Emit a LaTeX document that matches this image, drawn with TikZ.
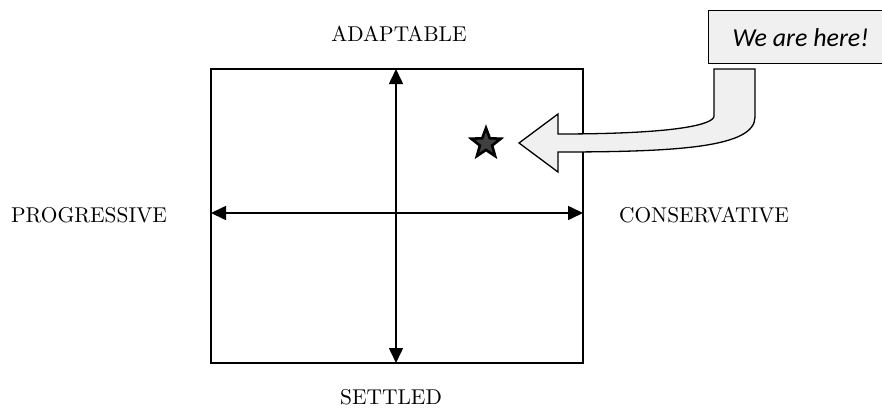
\documentclass[tikz,border=0pt]{standalone}
\usepackage{fontspec}
\newfontfamily\calloutfont{Carlito}
\usetikzlibrary{arrows.meta,shapes.geometric}

\begin{document}
\begin{tikzpicture}[x=1bp,y=1bp,line width=1.6bp,
  axis/.style={{Triangle[length=15bp,width=14bp]}-{Triangle[length=15bp,width=14bp]}},
  pole/.style={scale=2.15,transform shape,inner sep=0pt},
  callout/.style={draw,fill=black!6,line width=1.3bp}]
  \useasboundingbox (0,0) rectangle (882,409);
  \pgfmathsetmacro\cx{396}
  \pgfmathsetmacro\cy{196}
  % square:
  \draw (211,46) rectangle (583,340);
  % ends of the axes:
  \coordinate (top) at (\cx,340);
  \coordinate (bottom) at (\cx,46);
  \coordinate (left) at (211,\cy);
  \coordinate (right) at (583,\cy);
  % axes:
  \draw[axis] (bottom) -- (top);
  \draw[axis] (left) -- (right);
  % names of the poles:
  \node[pole] (adaptable) at (399,375) {ADAPTABLE};
  \node[pole] (settled) at (391,12) {SETTLED};
  \node[pole] (progressive) at (89,194) {PROGRESSIVE};
  \node[pole] (conservative) at (704,194) {CONSERVATIVE};
  % star:
  \node[star,star points=5,star point ratio=2.4,minimum size=31bp,inner sep=0pt,
    draw,line width=2.6bp,fill=black!75] (star) at (486,265.5) {};
  % bent arrow:
  \draw[callout] (519,266) -- (558,295) -- (558,275)
    .. controls (680,275) and (714,285) .. (714,293) -- (714,340) -- (755,340)
    -- (755,292) .. controls (755,262) and (680,257) .. (558,257) -- (558,237) -- cycle;
  % callout box:
  \node[callout,minimum width=184bp,minimum height=53bp,anchor=north west,
    font=\calloutfont\itshape\fontsize{26}{30}\selectfont] (here) at (708,399) {We are here!};
\end{tikzpicture}
\end{document}
